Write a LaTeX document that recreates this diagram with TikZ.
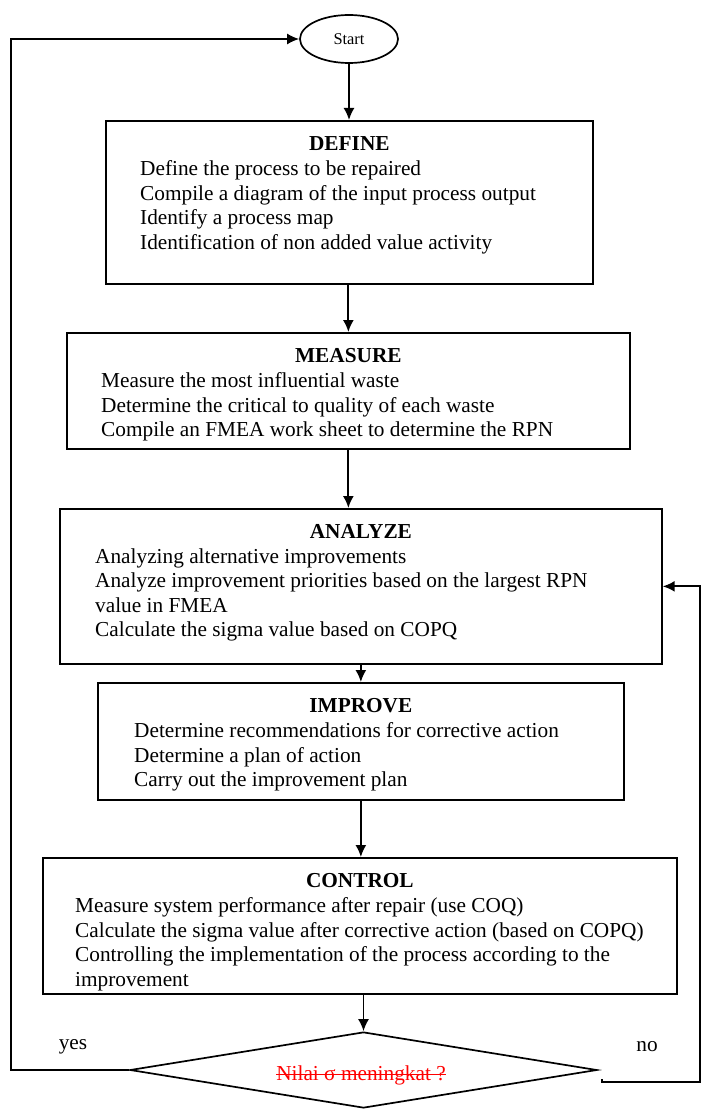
\documentclass[tikz,border=0pt]{standalone}
\usepackage{fontspec}
\setmainfont{Liberation Serif}
\usepackage{tikz}
\usetikzlibrary{positioning,shapes.geometric,arrows.meta}

\begin{document}
\begin{tikzpicture}[x=1pt,y=-1pt]
\tikzset{phase/.style = {draw,line width=1.7pt,anchor=north west,inner sep=0pt}}
\tikzset{phasetitle/.style = {inner sep=0pt,font=\fontsize{21.3}{24.5}\selectfont\bfseries}}
\tikzset{steps/.style = {inner sep=0pt,align=left,font=\fontsize{21.3}{24.5}\selectfont}}
\tikzset{lbl/.style = {inner sep=0pt,font=\fontsize{21.3}{24.5}\selectfont}}
\tikzset{edge/.style = {-{Latex[length=12pt,width=11pt]},line width=1.8pt}}
\useasboundingbox (0,0) rectangle (703,1110);
%\draw (0,0) rectangle (703,1110);
\node[ellipse,draw,line width=1.7pt,minimum width=98pt,minimum height=48pt,inner sep=0pt,
  font=\fontsize{16.4}{18}\selectfont] (start) at (349,39) {Start};
\node[phase,minimum width=487pt,minimum height=163pt] (define) at (105,120) {};
\node[phase,minimum width=563pt,minimum height=116pt] (measure) at (66,332) {};
\node[phase,minimum width=602pt,minimum height=155pt] (analyze) at (59,508) {};
\node[phase,minimum width=526pt,minimum height=117pt] (improve) at (97,682) {};
\node[phase,minimum width=634pt,minimum height=136pt] (control) at (42,857) {};
\node[diamond,draw,line width=1.7pt,minimum width=467pt,minimum height=76pt,shape aspect=6,
  inner sep=0pt] (check) at (363.5,1070) {};
\node[lbl,text=red] (checktext) at (361,1075) {Nilai σ meningkat ?};
\draw[red,line width=1pt] ([yshift=6pt]checktext.base west) -- ([yshift=6pt]checktext.base east);
% titles and steps
\node[phasetitle,below=16pt of define.north] (definetitle) {DEFINE};
\node[steps,below right=40.5pt and 35pt of define.north west] (definesteps)
  {Define the process to be repaired\\
   Compile a diagram of the input process output\\
   Identify a process map\\
   Identification of non added value activity};
\node[phasetitle,below=16pt of measure.north] (measuretitle) {MEASURE};
\node[steps,below right=40.5pt and 35pt of measure.north west] (measuresteps)
  {Measure the most influential waste\\
   Determine the critical to quality of each waste\\
   Compile an FMEA work sheet to determine the RPN};
\node[phasetitle,below=16pt of analyze.north] (analyzetitle) {ANALYZE};
\node[steps,below right=40.5pt and 36pt of analyze.north west] (analyzesteps)
  {Analyzing alternative improvements\\
   Analyze improvement priorities based on the largest RPN\\
   value in FMEA\\
   Calculate the sigma value based on COPQ};
\node[phasetitle,below=16pt of improve.north] (improvetitle) {IMPROVE};
\node[steps,below right=40.5pt and 37pt of improve.north west] (improvesteps)
  {Determine recommendations for corrective action\\
   Determine a plan of action\\
   Carry out the improvement plan};
\node[phasetitle,below=16pt of control.north] (controltitle) {CONTROL};
\node[steps,below right=40.5pt and 33pt of control.north west] (controlsteps)
  {Measure system performance after repair (use COQ)\\
   Calculate the sigma value after corrective action (based on COPQ)\\
   Controlling the implementation of the process according to the\\
   improvement};
\node[lbl] (yes) at (73,1047) {yes};
\node[lbl] (no) at (647,1047) {no};
% main flow
\draw[edge] (start) -- (start |- define.north);
\draw[edge] (measure.north |- define.south) -- (measure.north);
\draw[edge] (measure.south) -- (measure.south |- analyze.north);
\draw[edge] (analyze.south) -- (analyze.south |- improve.north);
\draw[edge] (improve.south) -- (improve.south |- control.north);
\draw[edge] (check.north |- control.south) -- (check.north);
% loops back
\draw[edge] (check.west) -- (11,1070) |- (start.west);
\coordinate (noend) at (602,1082);
\draw[edge] (602,1079) -- (noend) -- (700,1082) |- (analyze.east);
\end{tikzpicture}
\end{document}
